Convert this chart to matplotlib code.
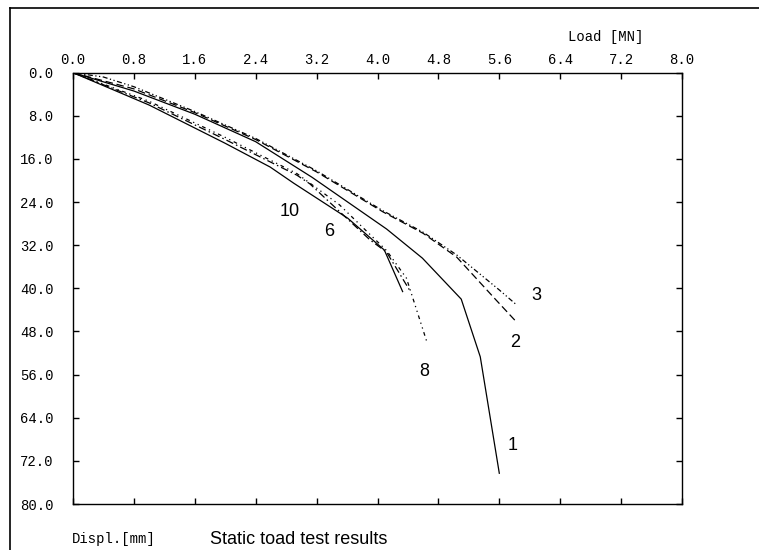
import matplotlib.pyplot as plt
from matplotlib.lines import Line2D

# load [MN] vs displacement [mm] for each static load test
load_1 = [0.0, 0.8, 1.6, 2.4, 3.14, 4.12, 4.59, 5.10, 5.35, 5.60]
disp_1 = [0.0, 3.4, 7.7, 12.8, 19.4, 29.0, 34.4, 42.0, 52.7, 74.3]

load_2 = [0.0, 0.8, 1.6, 2.4, 3.2, 4.07, 4.6, 5.04, 5.56, 5.83]
disp_2 = [0.0, 3.0, 7.4, 12.4, 18.4, 25.8, 29.8, 34.2, 42.2, 46.3]

load_3 = [0.0, 0.4, 0.8, 1.6, 2.4, 3.2, 4.07, 4.6, 5.04, 5.6, 5.83]
disp_3 = [0.0, 0.8, 2.6, 7.2, 12.2, 18.2, 25.6, 29.6, 33.8, 40.3, 43.1]

load_6 = [0.0, 1.0, 2.0, 2.94, 3.11, 3.9, 4.12, 4.42]
disp_6 = [0.0, 5.6, 12.4, 19.0, 20.6, 31.0, 33.3, 40.3]

load_8 = [0.0, 1.0, 2.0, 2.94, 3.5, 4.12, 4.38, 4.65]
disp_8 = [0.0, 5.3, 12.0, 18.7, 24.5, 33.0, 38.1, 50.0]

load_10 = [0.0, 1.0, 2.0, 2.59, 2.9, 3.61, 4.09, 4.33]
disp_10 = [0.0, 6.0, 13.1, 17.5, 20.5, 27.0, 32.9, 40.6]

# curve labels: (text, load, displ)
labels = [("1", 5.77, 69.1), ("2", 5.81, 50.0), ("3", 6.09, 41.3),
          ("6", 3.36, 29.4), ("8", 4.62, 55.4), ("10", 2.85, 25.8)]

x_ticks = [0.0, 0.8, 1.6, 2.4, 3.2, 4.0, 4.8, 5.6, 6.4, 7.2, 8.0]
y_ticks = [0.0, 8.0, 16.0, 24.0, 32.0, 40.0, 48.0, 56.0, 64.0, 72.0, 80.0]

mono = 'Liberation Mono'
fig = plt.figure(figsize=(7.59, 5.5), dpi=100)
ax = fig.add_axes([73 / 759, 1 - 504 / 550, 609 / 759, 431.3 / 550])

lw = 0.9
ax.plot(load_1, disp_1, color='black', lw=lw, ls='-')
ax.plot(load_10, disp_10, color='black', lw=lw, ls='-')
ax.plot(load_2, disp_2, color='black', lw=lw, ls=(0, (6, 3)))
ax.plot(load_3, disp_3, color='black', lw=lw, ls=(0, (4, 2, 1, 2, 1, 2)))
ax.plot(load_6, disp_6, color='black', lw=lw, ls=(0, (6, 2.5, 1.2, 2.5)))
ax.plot(load_8, disp_8, color='black', lw=lw, ls=(0, (3, 3, 1, 3, 1, 3)))

for txt, lx, ly in labels:
    ax.text(lx, ly, txt, fontsize=13, family='Liberation Sans',
            ha='center', va='center')

ax.set_xlim(0, 8.0)
ax.set_ylim(80.0, 0)
ax.set_xticks(x_ticks)
ax.set_yticks(y_ticks)
ax.set_xticklabels([f"{v:.1f}" for v in x_ticks], family=mono, fontsize=10)
ax.set_yticklabels([f"{v:.1f}" for v in y_ticks], family=mono, fontsize=10)
ax.tick_params(direction='in', length=4, width=1, top=True, right=True,
               labeltop=True, labelbottom=False, color='black')
ax.tick_params(axis='x', pad=4)
ax.tick_params(axis='y', pad=14)
for s in ax.spines.values():
    s.set_linewidth(1)

fig.text(606 / 759, 1 - 37 / 550, "Load [MN]", family=mono,
         fontsize=10, ha='center', va='center')
fig.text(72 / 759, 1 - 539 / 550, "Displ.[mm]", family=mono,
         fontsize=10, ha='left', va='center')
fig.text(210 / 759, 1 - 539 / 550, "Static toad test results",
         family='Liberation Sans', fontsize=13, ha='left', va='center')

# outer frame: top and left border only
fig.add_artist(Line2D([10 / 759, 10 / 759], [0, 1 - 8 / 550], color='black', lw=1.2))
fig.add_artist(Line2D([10 / 759, 1], [1 - 8 / 550, 1 - 8 / 550], color='black', lw=1.2))

plt.savefig("out.png", dpi=100)
